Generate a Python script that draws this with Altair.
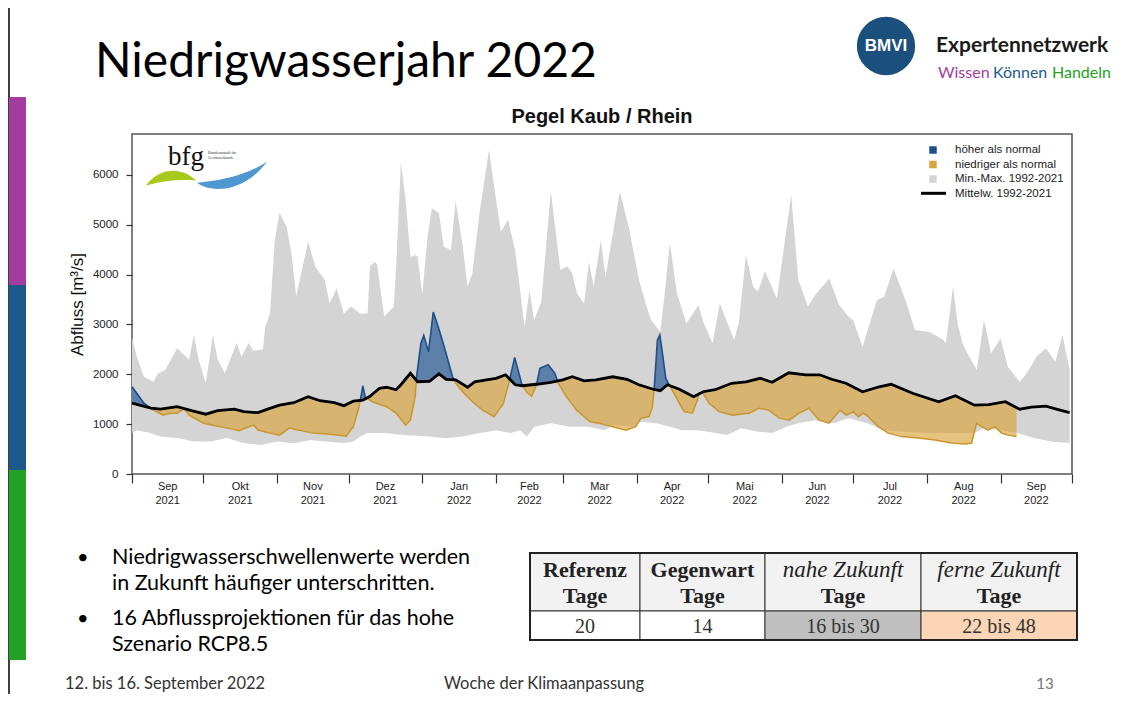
import altair as alt
import numpy as np
import pandas as pd

# ---------------- data ----------------
max_day = [0, 2, 5, 9, 11, 14, 19, 24, 26, 28, 31, 34, 36, 39, 44, 46, 49, 51, 55, 56, 58, 60, 62, 65, 67, 69,
           74, 77, 81, 83, 86, 89, 92, 96, 99, 100, 102, 103, 105, 106, 110, 111, 113, 115, 117, 119, 120, 122,
           124, 126, 129, 131, 134, 136, 139, 141, 143, 146, 150, 153, 155, 158, 161, 165, 167, 169, 172, 176,
           180, 183, 185, 187, 190, 192, 194, 197, 199, 205, 209, 213, 216, 218, 222, 224, 226, 229, 233, 238,
           240, 244, 247, 253, 255, 258, 261, 263, 266, 271, 277, 280, 284, 287, 293, 297, 301, 303, 307, 313,
           316, 320, 325, 329, 335, 341, 342, 345, 347, 349, 351, 355, 358, 361, 365, 368, 373, 376, 380, 384,
           388, 391, 394]
max_val = [2750, 2350, 1950, 1850, 2020, 2090, 2520, 2290, 2790, 2290, 1820, 2790, 2290, 2020, 2630, 2350, 2630,
           2470, 2500, 2950, 3220, 4690, 5240, 4960, 4430, 3560, 4660, 4160, 3890, 3420, 3720, 3220, 3360, 3220,
           3220, 4160, 4260, 4200, 3490, 3160, 3360, 4160, 6250, 5500, 4360, 4390, 4360, 3600, 4690, 5330, 5230,
           4560, 4490, 5480, 4560, 3760, 4020, 5230, 6500, 5500, 4860, 5100, 4490, 2950, 3690, 3090, 3460, 5670,
           4090, 4160, 4020, 3620, 3420, 4260, 3760, 4690, 3960, 5660, 4900, 3900, 3400, 3100, 2850, 3690, 4630,
           3620, 3020, 3390, 3060, 2620, 3420, 2690, 3030, 4390, 3760, 3660, 4060, 3520, 5600, 3890, 3360, 3590,
           3920, 3400, 3160, 3090, 2550, 3490, 3550, 4120, 3490, 2890, 2850, 2690, 2620, 3760, 3000, 2620, 2420,
           2090, 3090, 2420, 2720, 2150, 1850, 2020, 2350, 2520, 2250, 2790, 2100]

min_day = [0, 2, 7, 12, 19, 26, 33, 40, 47, 54, 61, 68, 75, 82, 89, 93, 96, 99, 106, 114, 125, 132, 139, 146,
           153, 159, 163, 166, 169, 176, 184, 192, 198, 203, 210, 214, 220, 226, 231, 238, 250, 256, 263, 269,
           275, 280, 287, 295, 301, 309, 316, 323, 337, 349, 354, 358, 365, 372, 379, 386, 394]
min_val = [820, 880, 830, 750, 720, 650, 650, 720, 620, 580, 650, 620, 680, 650, 620, 650, 750, 820, 820, 780,
           750, 720, 750, 820, 880, 820, 880, 750, 950, 1020, 950, 950, 880, 980, 950, 1050, 1020, 950, 880, 880,
           780, 920, 850, 820, 950, 1020, 1080, 1020, 1120, 1020, 880, 850, 820, 820, 820, 920, 880, 820, 720,
           650, 620]

mean_day = [0, 8, 12, 19, 25, 31, 36, 43, 47, 53, 57, 62, 68, 74, 79, 85, 89, 93, 97, 100, 104, 107, 111, 113,
            117, 120, 125, 129, 132, 136, 141, 144, 149, 153, 157, 161, 164, 170, 176, 181, 185, 190, 195, 202,
            208, 213, 219, 222, 225, 230, 236, 240, 245, 252, 258, 264, 269, 276, 283, 289, 294, 300, 307, 314,
            319, 328, 339, 346, 354, 360, 367, 373, 378, 384, 390, 394]
mean_val = [1420, 1320, 1300, 1350, 1270, 1200, 1270, 1300, 1250, 1230, 1300, 1380, 1430, 1550, 1470, 1430, 1370,
            1460, 1480, 1560, 1720, 1740, 1690, 1790, 2020, 1850, 1860, 2010, 1900, 1890, 1740, 1850, 1890, 1920,
            1990, 1790, 1770, 1800, 1840, 1890, 1950, 1870, 1890, 1950, 1900, 1790, 1700, 1670, 1790, 1700, 1550,
            1650, 1690, 1820, 1850, 1920, 1840, 2030, 1990, 1990, 1900, 1820, 1650, 1750, 1800, 1620, 1450, 1570,
            1380, 1390, 1450, 1300, 1340, 1360, 1280, 1230]

obs_day = [0, 2, 5, 9, 13, 16, 19, 22, 24, 30, 37, 45, 51, 53, 58, 62, 66, 70, 76, 82, 90, 93, 95, 96, 97, 98,
           101, 107, 111, 115, 117, 119, 119.5, 121.4, 122.6, 124.6, 126.6, 129.1, 131.2, 134.7, 136.1, 138.9,
           143.1, 147.3, 152.2, 154.3, 156, 158.7, 160.8, 163.7, 165.7, 167.9, 170, 171.4, 174.9, 177.7, 179.1,
           182.6, 186.8, 192.4, 196.3, 201.9, 207.5, 211.7, 213.8, 217.3, 218.7, 219.4, 220.8, 221.8, 222.9,
           224.3, 225.7, 228.5, 232, 235.5, 237.6, 238.3, 239.7, 242.5, 246.7, 252.3, 259.3, 263.5, 267.7, 271.9,
           276.1, 280.3, 284.5, 288.7, 292.9, 297.5, 300.3, 303.1, 305.2, 307.3, 309.4, 313.6, 317.8, 323.4,
           330.4, 337.4, 344.4, 350, 352.8, 354.9, 357, 359.8, 362.6, 365.4, 368.2, 371.7]
obs_val = [1750, 1620, 1420, 1280, 1180, 1220, 1220, 1310, 1180, 1020, 950, 870, 980, 880, 820, 780, 920, 880,
           820, 800, 760, 950, 1280, 1490, 1770, 1540, 1450, 1350, 1220, 980, 1080, 1550, 1920, 2620, 2780, 2450,
           3250, 2890, 2550, 1950, 1820, 1650, 1450, 1280, 1150, 1300, 1400, 1890, 2340, 1820, 1650, 1560, 1790,
           2120, 2190, 2020, 1820, 1550, 1280, 1050, 1020, 950, 880, 950, 1120, 1150, 1350, 1690, 2690, 2790,
           2420, 1920, 1790, 1550, 1250, 1220, 1490, 1620, 1640, 1420, 1250, 1180, 1220, 1320, 1280, 1120, 1080,
           1220, 1320, 1080, 1020, 1280, 1180, 1250, 1150, 1220, 1150, 950, 820, 750, 720, 680, 620, 600, 620,
           1020, 950, 880, 950, 820, 780, 750]

month_names = ["Sep", "Okt", "Nov", "Dez", "Jan", "Feb", "Mar", "Apr", "Mai", "Jun", "Jul", "Aug", "Sep"]
y_ticks = [0, 1000, 2000, 3000, 4000, 5000, 6000]

legend_labels = ["höher als normal", "niedriger als normal", "Min.-Max. 1992-2021", "Mittelw. 1992-2021"]
table_heads = ["Referenz", "Gegenwart", "nahe Zukunft", "ferne Zukunft"]
table_values = ["20", "14", "16 bis 30", "22 bis 48"]
bullet_lines = [["Niedrigwasserschwellenwerte werden", "in Zukunft häufiger unterschritten."],
                ["16 Abflussprojektionen für das hohe", "Szenario RCP8.5"]]

# ---------------- tables ----------------
t0 = pd.Timestamp("2021-09-01")
mstarts = pd.date_range("2021-09-01", periods=14, freq="MS")
month_start_days = [int((d - t0).days) for d in mstarts]
month_df = pd.DataFrame({
    "mid": [(month_start_days[i] + month_start_days[i + 1]) / 2 for i in range(13)],
    "m": month_names,
    "yr": [str(d.year) for d in mstarts[:13]],
})

band = pd.DataFrame({"day": max_day, "hi": max_val})
band["lo"] = np.interp(band["day"], min_day, min_val)
band2 = pd.DataFrame({"day": min_day, "lo": min_val})
band2["hi"] = np.interp(band2["day"], max_day, max_val)
band = pd.concat([band, band2]).drop_duplicates("day").sort_values("day")

mean_df = pd.DataFrame({"day": mean_day, "v": mean_val})

end = obs_day[-1]
grid = sorted(set(obs_day) | {d for d in mean_day if d <= end})
o = np.interp(grid, obs_day, obs_val)
m = np.interp(grid, mean_day, mean_val)
rows = []
for i in range(len(grid)):
    if i > 0:
        d0, d1 = o[i - 1] - m[i - 1], o[i] - m[i]
        if d0 * d1 < 0:
            t = d0 / (d0 - d1)
            xc = grid[i - 1] + t * (grid[i] - grid[i - 1])
            yc = m[i - 1] + t * (m[i] - m[i - 1])
            rows.append((xc, yc, yc))
    rows.append((grid[i], o[i], m[i]))
fill = pd.DataFrame(rows, columns=["day", "obs", "mean"])
fill["upper"] = fill[["obs", "mean"]].max(axis=1)
fill["lower"] = fill[["obs", "mean"]].min(axis=1)

# ---------------- encodings ----------------
OX, OY = 132, 134  # page position of plot origin
W, H = 940, 340
SANS = "Liberation Sans"
LATO = "Lato"
SERIF = "Liberation Serif"

xscale = alt.Scale(domain=[0, 395], nice=False, zero=False)
yscale = alt.Scale(domain=[0, 6820], nice=False)
xaxis = alt.Axis(values=month_start_days, labels=False, tickSize=9, tickColor="#333", tickWidth=1.2,
                 domain=False, grid=False, title=None)
yaxis = alt.Axis(values=y_ticks, format="d", tickSize=6, tickColor="#333", tickWidth=1.2, labelFont=SANS,
                 labelFontSize=11.5, labelColor="#222", labelPadding=8, title="Abfluss [m³/s]", titleFont=SANS,
                 titleFontSize=17, titleFontWeight="normal", titleColor="#111", titlePadding=6, domain=False,
                 grid=False)


def X(f):
    return alt.X(f, type="quantitative", scale=xscale, axis=xaxis)


def Y(f):
    return alt.Y(f, type="quantitative", scale=yscale, axis=yaxis)


BLUE = "#2b5c9a"
BLUE_L = "#1d4e89"
GOLD = "#d9a43a"
GOLD_L = "#c8962c"
GRAY = "#d4d4d4"

layers = []
layers.append(alt.Chart(band).mark_area(color=GRAY).encode(x=X("day"), y=Y("hi"), y2="lo"))
layers.append(alt.Chart(fill).mark_area(color=GOLD, opacity=0.65).encode(x=X("day"), y=Y("lower"), y2="mean"))
layers.append(alt.Chart(fill).mark_area(color=BLUE, opacity=0.7).encode(x=X("day"), y=Y("upper"), y2="mean"))
layers.append(alt.Chart(fill).mark_line(color=GOLD_L, strokeWidth=1.5).encode(x=X("day"), y=Y("lower")))
layers.append(alt.Chart(fill).mark_line(color=BLUE_L, strokeWidth=1.6).encode(x=X("day"), y=Y("upper")))
layers.append(alt.Chart(mean_df).mark_line(color="#000", strokeWidth=2.8).encode(x=X("day"), y=Y("v")))
layers.append(alt.Chart(month_df).mark_text(font=SANS, fontSize=11, color="#222", baseline="middle").encode(
    x=X("mid"), y=alt.value(487 - OY), text="m:N"))
layers.append(alt.Chart(month_df).mark_text(font=SANS, fontSize=11, color="#222", baseline="middle").encode(
    x=X("mid"), y=alt.value(501 - OY), text="yr:N"))

ONE = pd.DataFrame({"k": [0]})


def txt(s, px, py, size, color="#000", weight="normal", font=LATO, align="left", style="normal"):
    return alt.Chart(ONE).mark_text(text=s, fontSize=size, color=color, fontWeight=weight, font=font,
                                    align=align, baseline="middle", fontStyle=style).encode(
        x=alt.value(px - OX), y=alt.value(py - OY))


def rect(x1, y1, x2, y2, fill, stroke=None, sw=1.0):
    kw = {"fill": fill}
    if stroke is not None:
        kw["stroke"] = stroke
        kw["strokeWidth"] = sw
    return alt.Chart(ONE).mark_rect(**kw).encode(
        x=alt.value(x1 - OX), x2=alt.value(x2 - OX), y=alt.value(y1 - OY), y2=alt.value(y2 - OY))


def rule(x1, y1, x2, y2, color="#000", sw=1.0):
    return alt.Chart(ONE).mark_rule(color=color, strokeWidth=sw).encode(
        x=alt.value(x1 - OX), x2=alt.value(x2 - OX), y=alt.value(y1 - OY), y2=alt.value(y2 - OY))


def sym(shape, px, py, size, color):
    return alt.Chart(ONE).mark_point(shape=shape, filled=True, size=size, color=color, opacity=1,
                                     strokeWidth=0).encode(x=alt.value(px - OX), y=alt.value(py - OY))


# chart title
layers.append(txt("Pegel Kaub / Rhein", 602, 117, 20, "#111", "bold", SANS, "center"))

# legend
layers.append(sym("square", 933, 150, 56, "#1f4e8c"))
layers.append(sym("square", 933, 164.5, 56, GOLD))
layers.append(sym("square", 933, 179, 56, GRAY))
layers.append(rule(921, 193.3, 946, 193.3, "#000", 3))
for i, lab in enumerate(legend_labels):
    layers.append(txt(lab, 955, 150 + i * 14.5, 11.5, "#222", "normal", SANS))

# bfg logo
layers.append(txt("bfg", 186, 157, 27, "#111", "normal", SERIF, "center"))
layers.append(txt("Bundesanstalt für", 208, 153, 4, "#333", "normal", SERIF))
layers.append(txt("Gewässerkunde", 208, 158, 4, "#333", "normal", SERIF))
layers.append(sym("M -1 0.3 C -0.4 -0.5 0.5 -0.4 1 0.1 C 0.4 0.05 -0.3 0.1 -1 0.3 Z", 171, 178, 2500, "#a6c91c"))
layers.append(sym("M -1 0.25 C -0.5 0.6 0.4 0.45 1 -0.35 C 0.4 0.05 -0.4 0.2 -1 0.25 Z", 232, 174, 4900, "#4f97d1"))

# slide frame and colour bars
layers.append(rule(9, 0, 9, 702, "#000", 1.5))
layers.append(rect(9, 97, 26, 285, "#a33c9f"))
layers.append(rect(9, 285, 26, 470, "#1c5a8c"))
layers.append(rect(9, 470, 26, 660, "#22a122"))

# slide title
layers.append(txt("Niedrigwasserjahr 2022", 95, 63, 48, "#000", "normal", LATO))

# BMVI logo
layers.append(sym("circle", 886, 46, 3400, "#1b4f7e"))
layers.append(txt("BMVI", 886, 46, 17, "#fff", "bold", SANS, "center"))
layers.append(txt("Expertennetzwerk", 936, 46, 21, "#1a1a1a", "bold", LATO))
layers.append(txt("Wissen", 938, 73, 16, "#a33c9f", "normal", LATO))
layers.append(txt("Können", 993, 73, 16, "#1c5a8c", "normal", LATO))
layers.append(txt("Handeln", 1052, 73, 16, "#22a122", "normal", LATO))

# bullets
for (l1, l2), yb in zip(bullet_lines, [558, 619]):
    layers.append(txt("•", 77, yb, 20, "#000", "normal", LATO))
    layers.append(txt(l1, 112, yb, 21.5, "#000", "normal", LATO))
    layers.append(txt(l2, 112, yb + 26, 21.5, "#000", "normal", LATO))

# table
cols = [530, 640, 765, 921, 1077]
top, mid, bot = 553, 611, 640
val_fill = ["#ffffff", "#ffffff", "#bfbfbf", "#fbd5b5"]
for i in range(4):
    layers.append(rect(cols[i], top, cols[i + 1], mid, "#f2f2f2", "#333", 1))
    layers.append(rect(cols[i], mid, cols[i + 1], bot, val_fill[i], "#333", 1))
    cx = (cols[i] + cols[i + 1]) / 2
    if i < 2:
        layers.append(txt(table_heads[i], cx, 570, 22, "#222", "bold", SERIF, "center"))
    else:
        layers.append(txt(table_heads[i], cx, 570, 23, "#222", "normal", SERIF, "center", "italic"))
    layers.append(txt("Tage", cx, 596, 22, "#222", "bold", SERIF, "center"))
    layers.append(txt(table_values[i], cx, 627, 20, "#333", "normal", SERIF, "center"))
layers.append(rect(cols[0], top, cols[4], bot, "transparent", "#222", 2))

# footer
layers.append(txt("12. bis 16. September 2022", 65, 684, 16.5, "#333", "normal", LATO))
layers.append(txt("Woche der Klimaanpassung", 544, 684, 16.5, "#333", "normal", LATO, "center"))
layers.append(txt("13", 1045, 684, 15, "#777", "normal", LATO, "center"))

chart = alt.layer(*layers).properties(
    width=W, height=H,
    autosize=alt.AutoSizeParams(type="none"),
    padding={"left": OX - 8, "top": OY - 8, "right": 8 + 1107 - (OX + W), "bottom": 8 + 686 - (OY + H)},
    background="white",
).configure_view(stroke="#555", strokeWidth=1.5)

chart.save("out.html", embed_options={"renderer": "svg", "actions": False})
